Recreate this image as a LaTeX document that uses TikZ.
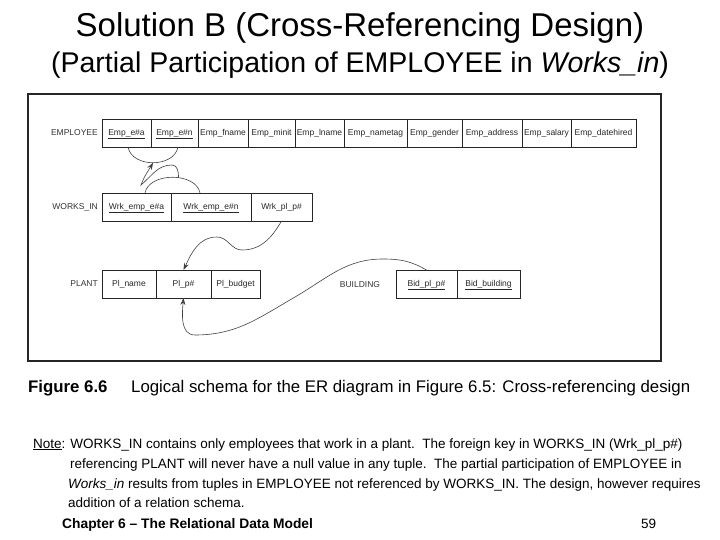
\documentclass[tikz,border=0pt]{standalone}
\usepackage{fontspec}
\setmainfont{Liberation Sans}
\usetikzlibrary{positioning,calc,arrows.meta}

\newcommand{\diagfont}{\fontsize{8.5}{10}\selectfont}

\begin{document}
\begin{tikzpicture}[x=1pt,y=1pt,
        attr/.style={draw,black!85,text=black!85,outer sep=0pt,inner sep=0pt,minimum height=28pt,minimum width=#1,text height=6.5pt,text depth=2pt,font=\diagfont},
        relname/.style={anchor=east,inner sep=0pt,text=black!80,font=\diagfont},
        keyarc/.style={line width=0.6pt,black!75},
        link/.style={->,>={Stealth[length=7pt,width=5pt]},line width=0.6pt,black!75},
        notetext/.style={anchor=base west,inner sep=0pt,font=\fontsize{13.5}{16}\selectfont}
    ]
        \useasboundingbox (0,0) rectangle (720,-540);

        % titles
        \node[anchor=base,font=\fontsize{33}{38}\selectfont] (title) at (360,-37) {Solution B (Cross-Referencing Design)};
        \node[anchor=base,font=\fontsize{28.5}{34}\selectfont] (subtitle) at (360,-73) {(Partial Participation of EMPLOYEE in \textit{Works\_in})};

        % figure frame
        \draw[line width=1.2pt,black!85] (28,-94) rectangle (661,-361);

        % EMPLOYEE
        \node[relname] (emp) at (98,-133) {EMPLOYEE};
        \node[attr=49,anchor=north west] (ea) at (102,-119) {\underline{Emp\_e\#a}};
        \node[attr=47,right=0pt of ea] (en) {\underline{Emp\_e\#n}};
        \node[attr=50,right=0pt of en] (ef) {Emp\_fname};
        \node[attr=47,right=0pt of ef] (em) {Emp\_minit};
        \node[attr=49,right=0pt of em] (el) {Emp\_lname};
        \node[attr=63,right=0pt of el] (et) {Emp\_nametag};
        \node[attr=55,right=0pt of et] (eg) {Emp\_gender};
        \node[attr=60,right=0pt of eg] (ed) {Emp\_address};
        \node[attr=49,right=0pt of ed] (es) {Emp\_salary};
        \node[attr=65,right=0pt of es] (eh) {Emp\_datehired};

        % WORKS_IN
        \node[relname] (wrk) at (98,-207) {WORKS\_IN};
        \node[attr=69,anchor=north west] (wa) at (102,-193) {\underline{Wrk\_emp\_e\#a}};
        \node[attr=80,right=0pt of wa] (wn) {\underline{Wrk\_emp\_e\#n}};
        \node[attr=61,right=0pt of wn] (wp) {Wrk\_pl\_p\#};

        % PLANT
        \node[relname] (plant) at (98,-284) {PLANT};
        \node[attr=54,anchor=north west] (pn) at (102,-270) {Pl\_name};
        \node[attr=55,right=0pt of pn] (pp) {Pl\_p\#};
        \node[attr=49,right=0pt of pp] (pb) {Pl\_budget};

        % BUILDING
        \node[relname,anchor=center] (bld) at (360,-285) {BUILDING};
        \node[attr=61,anchor=north west] (bp) at (396,-270) {\underline{Bid\_pl\_p\#}};
        \node[attr=63,right=0pt of bp] (bb) {\underline{Bid\_building}};

        % key arcs
        \draw[keyarc] ($(ea.south)+(1.5,0)$) .. controls +(4,-21) and +(-4,-21) .. ($(en.south)+(3.5,0)$) coordinate[pos=0.5] (empkey);
        \draw[keyarc] ($(wa.north east)+(-26,0)$) .. controls +(4,21) and +(-4,21) .. ($(wn.north west)+(29,0)$) coordinate[pos=0.58] (wrkkey);

        % references
        \draw[link] (wrkkey) to[out=90,in=0] (172,-165) to[out=180,in=40] (141,-185) to[out=70,in=240] (empkey);
        \draw[link] (wp.south) to[out=240,in=0] (242,-250) to[out=180,in=0] (217,-237) to[out=180,in=65] (pp.north);
        \draw[link] (bp.north) to[out=150,in=0] (383,-259) to[out=180,in=30] (295,-297) to[out=210,in=0] (195,-335) to[out=180,in=-95] (pp.south);

        % caption
        \node[notetext,font=\fontsize{16.8}{20}\selectfont\bfseries] (figno) at (28,-392) {Figure 6.6};
        \node[notetext,font=\fontsize{16.8}{20}\selectfont] (caption) at (131,-392) {Logical schema for the ER diagram in Figure 6.5: Cross-referencing design};

        % note
        \node[notetext] (note1) at (33,-448) {\underline{Note}: WORKS\_IN contains only employees that work in a plant.\ \ The foreign key in WORKS\_IN (Wrk\_pl\_p\#)};
        \node[notetext] (note2) at (70,-468) {referencing PLANT will never have a null value in any tuple.\ \ The partial participation of EMPLOYEE in};
        \node[notetext] (note3) at (68,-488) {\textit{Works\_in} results from tuples in EMPLOYEE not referenced by WORKS\_IN. The design, however requires};
        \node[notetext] (note4) at (68,-507) {addition of a relation schema.};
        \node[notetext,font=\fontsize{13.8}{16}\selectfont\bfseries] (chap) at (62,-528) {Chapter 6 -- The Relational Data Model};
        \node[notetext] (page) at (641,-528) {59};
    \end{tikzpicture}
\end{document}
